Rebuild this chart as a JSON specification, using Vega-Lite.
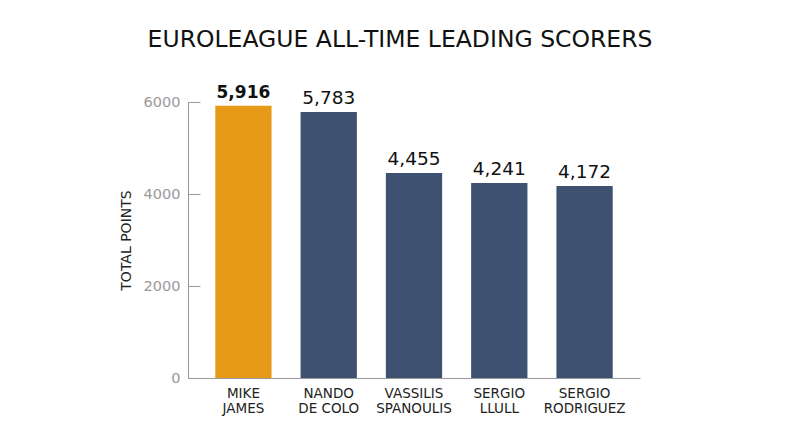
{
  "$schema": "https://vega.github.io/schema/vega-lite/v6.json",
  "autosize": "none",
  "width": 452,
  "height": 276,
  "padding": {"left": 188, "top": 102, "right": 160, "bottom": 69},
  "background": "white",
  "config": {
    "view": {"stroke": null},
    "font": "DejaVu Sans"
  },
  "title": {
    "text": "EUROLEAGUE ALL-TIME LEADING SCORERS",
    "fontSize": 23.5,
    "fontWeight": "normal",
    "color": "#111111",
    "font": "DejaVu Sans",
    "dx": -14,
    "offset": 32
  },
  "data": {
    "values": [
      {"player": "MIKE JAMES", "points": 5916, "highlight": true},
      {"player": "NANDO DE COLO", "points": 5783, "highlight": false},
      {"player": "VASSILIS SPANOULIS", "points": 4455, "highlight": false},
      {"player": "SERGIO LLULL", "points": 4241, "highlight": false},
      {"player": "SERGIO RODRIGUEZ", "points": 4172, "highlight": false}
    ]
  },
  "encoding": {
    "x": {
      "field": "player",
      "type": "nominal",
      "sort": null,
      "scale": {"paddingInner": 0.34, "paddingOuter": 0.32},
      "axis": {
        "title": null,
        "labelAngle": 0,
        "ticks": false,
        "domainColor": "#999999",
        "labelColor": "#222222",
        "labelFontSize": 13.5,
        "labelPadding": 8,
        "labelLineHeight": 15,
        "labelExpr": "datum.label == 'NANDO DE COLO' ? ['NANDO', 'DE COLO'] : split(datum.label, ' ')"
      }
    },
    "y": {
      "field": "points",
      "type": "quantitative",
      "scale": {"domain": [0, 6000], "nice": false},
      "axis": {
        "title": "TOTAL POINTS",
        "titleFontSize": 14,
        "titleFontWeight": "normal",
        "titleColor": "#222222",
        "titlePadding": 10,
        "values": [0, 2000, 4000, 6000],
        "format": "d",
        "grid": false,
        "domainColor": "#999999",
        "tickColor": "#999999",
        "tickSize": -12,
        "labelPadding": 20,
        "labelColor": "#999999",
        "labelFontSize": 14.5
      }
    }
  },
  "layer": [
    {
      "mark": {"type": "bar"},
      "encoding": {
        "color": {
          "field": "highlight",
          "type": "nominal",
          "legend": null,
          "scale": {"domain": [true, false], "range": ["#E69A17", "#3E5170"]}
        }
      }
    },
    {
      "transform": [{"filter": "datum.highlight"}],
      "mark": {"type": "text", "baseline": "alphabetic", "dy": -8, "fontSize": 17, "fontWeight": "bold", "color": "#111111"},
      "encoding": {"text": {"field": "points", "type": "quantitative", "format": ","}}
    },
    {
      "transform": [{"filter": "!datum.highlight"}],
      "mark": {"type": "text", "baseline": "alphabetic", "dy": -8, "fontSize": 18.5, "color": "#111111"},
      "encoding": {"text": {"field": "points", "type": "quantitative", "format": ","}}
    }
  ]
}
